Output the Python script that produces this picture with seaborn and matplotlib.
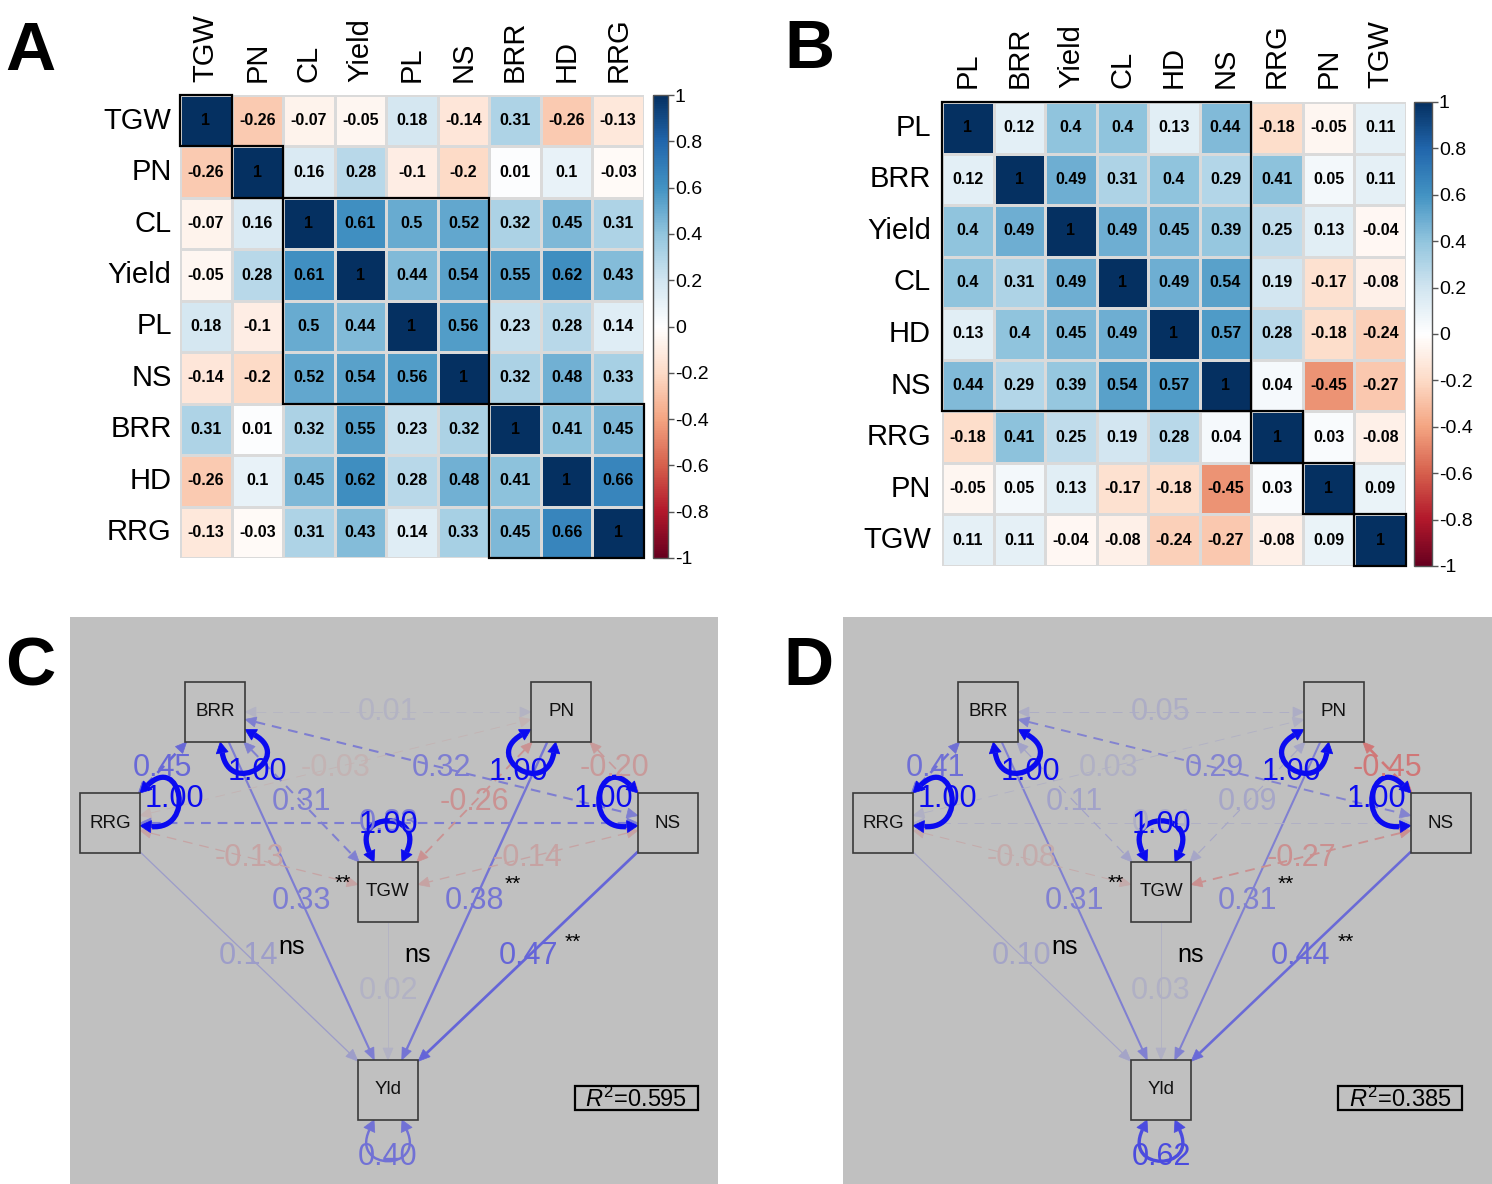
import numpy as np
import pandas as pd
import matplotlib
matplotlib.use("Agg")
import matplotlib.pyplot as plt
import seaborn as sns
from matplotlib.colors import LinearSegmentedColormap
from matplotlib.patches import Rectangle, Polygon, PathPatch
from matplotlib.path import Path

sns.set_style("white")
plt.rcParams['font.family'] = ['Liberation Sans', 'DejaVu Sans']
plt.rcParams['mathtext.fontset'] = 'custom'
plt.rcParams['mathtext.rm'] = 'Liberation Sans'
plt.rcParams['mathtext.it'] = 'Liberation Sans:italic'
plt.rcParams['lines.scale_dashes'] = False
for k in ['text.color', 'xtick.color', 'ytick.color', 'axes.labelcolor']:
    plt.rcParams[k] = 'black'

# ---------------- data ----------------
labels_A = ["TGW", "PN", "CL", "Yield", "PL", "NS", "BRR", "HD", "RRG"]
corr_A = [
    [1, -0.26, -0.07, -0.05, 0.18, -0.14, 0.31, -0.26, -0.13],
    [-0.26, 1, 0.16, 0.28, -0.1, -0.2, 0.01, 0.1, -0.03],
    [-0.07, 0.16, 1, 0.61, 0.5, 0.52, 0.32, 0.45, 0.31],
    [-0.05, 0.28, 0.61, 1, 0.44, 0.54, 0.55, 0.62, 0.43],
    [0.18, -0.1, 0.5, 0.44, 1, 0.56, 0.23, 0.28, 0.14],
    [-0.14, -0.2, 0.52, 0.54, 0.56, 1, 0.32, 0.48, 0.33],
    [0.31, 0.01, 0.32, 0.55, 0.23, 0.32, 1, 0.41, 0.45],
    [-0.26, 0.1, 0.45, 0.62, 0.28, 0.48, 0.41, 1, 0.66],
    [-0.13, -0.03, 0.31, 0.43, 0.14, 0.33, 0.45, 0.66, 1],
]
groups_A = [1, 1, 4, 3]

labels_B = ["PL", "BRR", "Yield", "CL", "HD", "NS", "RRG", "PN", "TGW"]
corr_B = [
    [1, 0.12, 0.4, 0.4, 0.13, 0.44, -0.18, -0.05, 0.11],
    [0.12, 1, 0.49, 0.31, 0.4, 0.29, 0.41, 0.05, 0.11],
    [0.4, 0.49, 1, 0.49, 0.45, 0.39, 0.25, 0.13, -0.04],
    [0.4, 0.31, 0.49, 1, 0.49, 0.54, 0.19, -0.17, -0.08],
    [0.13, 0.4, 0.45, 0.49, 1, 0.57, 0.28, -0.18, -0.24],
    [0.44, 0.29, 0.39, 0.54, 0.57, 1, 0.04, -0.45, -0.27],
    [-0.18, 0.41, 0.25, 0.19, 0.28, 0.04, 1, 0.03, -0.08],
    [-0.05, 0.05, 0.13, -0.17, -0.18, -0.45, 0.03, 1, 0.09],
    [0.11, 0.11, -0.04, -0.08, -0.24, -0.27, -0.08, 0.09, 1],
]
groups_B = [6, 1, 1, 1]

cbar_ticks = [-1, -0.8, -0.6, -0.4, -0.2, 0, 0.2, 0.4, 0.6, 0.8, 1]

# path models
path_from = ["RRG", "BRR", "TGW", "PN", "NS"]
path_sig = ["ns", "**", "ns", "**", "**"]
paths_C = [0.14, 0.33, 0.02, 0.38, 0.47]
paths_D = [0.10, 0.31, 0.03, 0.31, 0.44]
cov_pairs = [("RRG", "BRR"), ("BRR", "PN"), ("BRR", "NS"), ("RRG", "PN"),
             ("RRG", "NS"), ("PN", "NS"), ("BRR", "TGW"), ("PN", "TGW"),
             ("RRG", "TGW"), ("NS", "TGW")]
covs_C = [0.45, 0.01, 0.32, -0.03, 0.33, -0.20, 0.31, -0.26, -0.13, -0.14]
covs_D = [0.41, 0.05, 0.29, 0.03, 0.04, -0.45, 0.11, 0.09, -0.08, -0.27]
exo_nodes = ["RRG", "BRR", "TGW", "PN", "NS"]
exo_var = [1.00, 1.00, 1.00, 1.00, 1.00]
resid_C = 0.40
resid_D = 0.62
r2_C = "0.595"
r2_D = "0.385"

# ---------------- layout / style ----------------
W, H = 1492, 1184
fig = plt.figure(figsize=(W / 100, H / 100), dpi=100)


def rect(x0, y0, x1, y1):
    return [x0 / W, 1 - y1 / H, (x1 - x0) / W, (y1 - y0) / H]


cmap = LinearSegmentedColormap.from_list(
    "corrRdBu", ["#67001F", "#B2182B", "#D6604D", "#F4A582", "#FDDBC7", "#FFFFFF",
                 "#D1E5F0", "#92C5DE", "#4393C3", "#2166AC", "#053061"])


def corr_panel(mat, labels, groups, ax_px, cax_px, xpad, ypad):
    ax = fig.add_axes(rect(*ax_px))
    cax = fig.add_axes(rect(*cax_px))
    df = pd.DataFrame(mat, index=labels, columns=labels)
    annot = np.array([[f"{round(v, 2):g}" for v in row] for row in mat])
    sns.heatmap(df, ax=ax, cbar_ax=cax, cmap=cmap, vmin=-1, vmax=1,
                annot=annot, fmt="", linewidths=1, linecolor="#dadada",
                annot_kws=dict(fontsize=11.5, fontweight="bold", color="black"))
    ax.tick_params(axis="x", top=True, labeltop=True, bottom=False,
                   labelbottom=False, length=0, pad=xpad)
    ax.tick_params(axis="y", length=0, pad=ypad)
    ax.set_xticklabels(labels, rotation=90, fontsize=21)
    ax.set_yticklabels(labels, rotation=0, fontsize=21)
    ax.set_xlabel("")
    ax.set_ylabel("")
    s = 0
    for g in groups:
        ax.add_patch(Rectangle((s, s), g, g, fill=False, ec="black", lw=1.6,
                               zorder=5, clip_on=False))
        s += g
    cb = ax.collections[0].colorbar
    cb.set_ticks(cbar_ticks)
    cb.set_ticklabels([f"{t:g}" for t in cbar_ticks])
    cb.outline.set_edgecolor("#555555")
    cb.outline.set_linewidth(1)
    cax.tick_params(labelsize=14, length=4, width=1, pad=1, color="#555555")
    return ax


corr_panel(corr_A, labels_A, groups_A, (180, 95, 644, 558), (653, 95, 668, 558), 9, 6)
corr_panel(corr_B, labels_B, groups_B, (942, 102, 1406, 566), (1414, 102, 1432, 566), 10, 8)

# node layout within path panels (pixels)
NODE_POS = {"BRR": (145, 95), "PN": (491, 95), "RRG": (40, 206), "NS": (598, 206),
            "TGW": (318, 275), "Yld": (318, 473)}
LOOP_DIR = {"BRR": 55, "RRG": -20, "PN": 125, "NS": 200, "TGW": -90, "Yld": 90}
SIG_OFF = {"RRG": (43, -10), "BRR": (41, -18), "TGW": (30, -36),
           "PN": (38, -17), "NS": (45, -14)}
HALF = 30
BG = np.array([192, 192, 192]) / 255
POS = np.array([10, 10, 240]) / 255
NEG = np.array([225, 40, 40]) / 255


def ecol(v):
    a = 0.06 + 0.94 * min(abs(v), 1)
    base = POS if v > 0 else NEG
    return tuple(a * base + (1 - a) * BG)


def lw_of(v):
    return (0.7 + 4.3 * abs(v)) * 0.72


def head(ax, tip, d, col, hl, hw):
    d = np.asarray(d) / np.linalg.norm(d)
    n = np.array([-d[1], d[0]])
    b = tip - hl * d
    ax.add_patch(Polygon([tip, b + hw * n, b - hw * n], closed=True,
                         fc=col, ec=col, lw=0.5, zorder=3))


def border(c, u):
    r = HALF / max(abs(u[0]), abs(u[1]))
    return c + r * u, r


def draw_sem(ax, paths, covs, resid, r2, r2box):
    P = {k: np.array(v, dtype=float) for k, v in NODE_POS.items()}
    # directed paths
    for src, v, sg in zip(path_from, paths, path_sig):
        a, b = P[src], P["Yld"]
        u = (b - a) / np.linalg.norm(b - a)
        s, _ = border(a, u)
        t, _ = border(b, -u)
        col = ecol(v)
        hl = 12
        ax.plot([s[0], (t - hl * u)[0]], [s[1], (t - hl * u)[1]], color=col,
                lw=lw_of(v), solid_capstyle="butt", zorder=2)
        head(ax, t, u, col, hl, 5)
        m = (a + b) / 2
        ax.text(m[0], m[1], f"{v:.2f}", color=col, fontsize=22, ha="center",
                va="center", zorder=5)
        off = SIG_OFF[src]
        ax.text(m[0] + off[0], m[1] + off[1], sg, color="black",
                fontsize=15 if sg == "**" else 18, ha="center", va="center", zorder=5)
    # covariances
    for (n1, n2), v in zip(cov_pairs, covs):
        a, b = P[n1], P[n2]
        u = (b - a) / np.linalg.norm(b - a)
        s, _ = border(a, u)
        t, _ = border(b, -u)
        col = ecol(v)
        hl = 11
        p0, p1 = s + hl * u, t - hl * u
        ax.plot([p0[0], p1[0]], [p0[1], p1[1]], color=col, lw=lw_of(v),
                ls=(0, (7, 5)), dash_capstyle="butt", zorder=2)
        head(ax, t, u, col, hl, 5)
        head(ax, s, -u, col, hl, 5)
        m = (a + b) / 2
        ax.text(m[0], m[1], f"{v:.2f}", color=col, fontsize=22, ha="center",
                va="center", zorder=5)
    # variance loops
    loops = list(zip(exo_nodes, exo_var)) + [("Yld", resid)]
    for node, v in loops:
        c = P[node]
        th = LOOP_DIR[node]
        col = ecol(v)
        hl, hw = 11, 6
        pts = []
        for dth in (-25, 25):
            ang = np.deg2rad(th + dth)
            u = np.array([np.cos(ang), np.sin(ang)])
            p, _ = border(c, u)
            pts.append((p, u))
        (p1, u1), (p2, u2) = pts
        q1, q2 = p1 + hl * u1, p2 + hl * u2
        L = 46
        path = Path([q1, q1 + L * u1, q2 + L * u2, q2],
                    [Path.MOVETO, Path.CURVE4, Path.CURVE4, Path.CURVE4])
        ax.add_patch(PathPatch(path, fill=False, ec=col, lw=lw_of(v) if v < 0.9 else 3.8,
                               capstyle="butt", zorder=2))
        head(ax, p1, -u1, col, hl, hw)
        head(ax, p2, -u2, col, hl, hw)
        ang = np.deg2rad(th)
        u = np.array([np.cos(ang), np.sin(ang)])
        _, r = border(c, u)
        lp = c + u * (r + 37)
        ax.text(lp[0], lp[1], f"{v:.2f}", color=col, fontsize=22, ha="center",
                va="center", zorder=6)
    # nodes
    for name, (x, y) in NODE_POS.items():
        ax.add_patch(Rectangle((x - HALF, y - HALF), 2 * HALF, 2 * HALF,
                               fc="#C0C0C0", ec="#3a3a3a", lw=1.2, zorder=4))
        ax.text(x, y, name, fontsize=13.5, ha="center", va="center", zorder=5,
                color="#111111")
    # R2 box
    x0, y0, x1, y1 = r2box
    ax.add_patch(Rectangle((x0, y0), x1 - x0, y1 - y0, fill=False, ec="black",
                           lw=1.6, zorder=4))
    ax.text((x0 + x1) / 2, (y0 + y1) / 2 + 1, r"$R^2$=" + r2, fontsize=17,
            ha="center", va="center", zorder=5)


def sem_axes(px):
    ax = fig.add_axes(rect(*px))
    ax.set_xlim(0, px[2] - px[0])
    ax.set_ylim(px[3] - px[1], 0)
    ax.set_facecolor("#C0C0C0")
    ax.set_xticks([])
    ax.set_yticks([])
    for s in ax.spines.values():
        s.set_visible(False)
    return ax


axC = sem_axes((70, 617, 718, 1184))
draw_sem(axC, paths_C, covs_C, resid_C, r2_C, (505, 469, 628, 493))
axD = sem_axes((843, 617, 1492, 1184))
draw_sem(axD, paths_D, covs_D, resid_D, r2_D, (495, 469, 619, 493))

for letter, x, y in [("A", 5, 70), ("B", 784, 68), ("C", 5, 685), ("D", 783, 685)]:
    fig.text(x / W, 1 - y / H, letter, fontsize=50, fontweight="bold",
             ha="left", va="baseline", color="black")

fig.savefig("out.png", dpi=100)
